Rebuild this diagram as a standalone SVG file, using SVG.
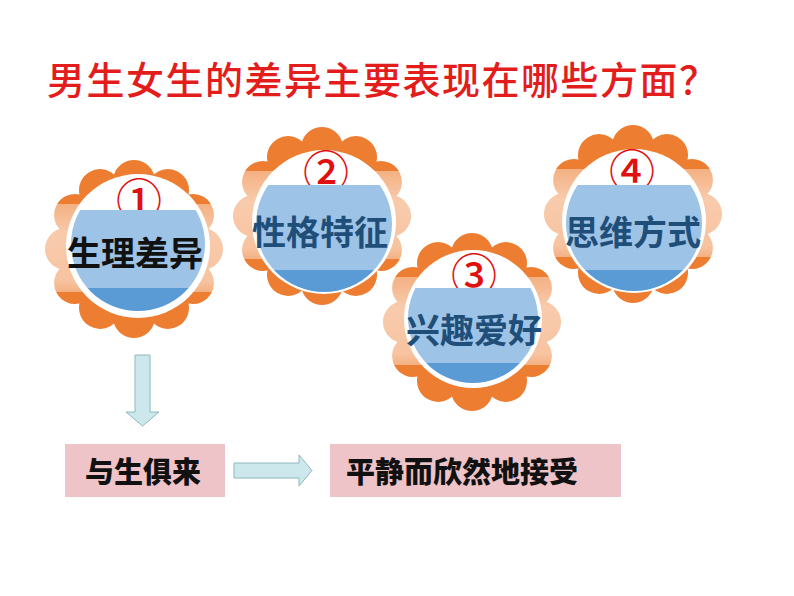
<svg xmlns="http://www.w3.org/2000/svg" xmlns:xlink="http://www.w3.org/1999/xlink" width="794" height="596" viewBox="0 0 794 596">
<defs>
<style>
.title{font-family:"Noto Sans CJK SC","Noto Sans CJK JP",sans-serif;font-size:38px;font-weight:500;fill:#E31C1C;letter-spacing:1.5px}
.num{font-family:"Noto Sans CJK SC",sans-serif;font-size:46px;font-weight:500;fill:#E01010;text-anchor:middle}
.lbl{font-family:"Noto Sans CJK SC",sans-serif;font-size:34px;text-anchor:middle;font-weight:700}
.blk{fill:#111111}
.dblue{fill:#1F4E79}
.box{fill:#EEC4C9}
.boxt{font-family:"Noto Sans CJK SC",sans-serif;font-size:29px;font-weight:900;fill:#111111;text-anchor:middle}
.arrow{fill:#CDE8EC;stroke:#8DB8BE;stroke-width:1}
.ring{fill:#FFFFFF}
.lb{fill:#9DC3E6}
.db{fill:#5B9BD5}
</style>
<linearGradient id="petalGrad" x1="0" y1="0" x2="0" y2="1">
<stop offset="0" stop-color="#ED7D31"/>
<stop offset="0.25" stop-color="#ED7D31"/>
<stop offset="0.25" stop-color="#F4B183"/>
<stop offset="0.42" stop-color="#F8CBAD"/>
<stop offset="0.68" stop-color="#F7C3A0"/>
<stop offset="0.74" stop-color="#F4B183"/>
<stop offset="0.74" stop-color="#ED7D31"/>
<stop offset="1" stop-color="#ED7D31"/>
</linearGradient>
<path id="petals" fill="url(#petalGrad)" d="M-19.97,-74.51 A21,21 0 0 1 19.97,-74.51 A21,21 0 0 1 54.55,-54.55 A21,21 0 0 1 74.51,-19.97 A21,21 0 0 1 74.51,19.97 A21,21 0 0 1 54.55,54.55 A21,21 0 0 1 19.97,74.51 A21,21 0 0 1 -19.97,74.51 A21,21 0 0 1 -54.55,54.55 A21,21 0 0 1 -74.51,19.97 A21,21 0 0 1 -74.51,-19.97 A21,21 0 0 1 -54.55,-54.55 A21,21 0 0 1 -19.97,-74.51 Z"/>
<clipPath id="c1"><circle cx="138" cy="244" r="67"/></clipPath>
<clipPath id="c2"><circle cx="324" cy="224" r="68"/></clipPath>
<clipPath id="c3"><circle cx="473" cy="318" r="65"/></clipPath>
<clipPath id="c4"><circle cx="634" cy="223" r="68"/></clipPath>
</defs>
<rect width="794" height="596" fill="#FFFFFF"/>
<text class="title" x="47" y="94">男生女生的差异主要表现在哪些方面？</text>

<g id="flower1">
<use xlink:href="#petals" href="#petals" transform="translate(134,249)"/>
<circle class="ring" cx="138" cy="246" r="72"/>
<text class="num" x="139" y="217">①</text>
<g clip-path="url(#c1)">
<rect class="lb" x="60" y="210" width="160" height="78"/>
<rect class="db" x="60" y="288" width="160" height="40"/>
</g>
<text class="lbl blk" x="135" y="266">生理差异</text>
</g>

<g id="flower2">
<use xlink:href="#petals" href="#petals" transform="translate(322,216)"/>
<circle class="ring" cx="324" cy="222" r="72"/>
<text class="num" x="326" y="189">②</text>
<g clip-path="url(#c2)">
<rect class="lb" x="250" y="185" width="150" height="85"/>
<rect class="db" x="250" y="270" width="150" height="40"/>
</g>
<text class="lbl dblue" x="320" y="245">性格特征</text>
</g>

<g id="flower4">
<use xlink:href="#petals" href="#petals" transform="translate(633,214)"/>
<circle class="ring" cx="634" cy="221" r="72"/>
<text class="num" x="632" y="188">④</text>
<g clip-path="url(#c4)">
<rect class="lb" x="560" y="185" width="150" height="85"/>
<rect class="db" x="560" y="270" width="150" height="40"/>
</g>
<text class="lbl dblue" x="633" y="245">思维方式</text>
</g>

<g id="flower3">
<use xlink:href="#petals" href="#petals" transform="translate(472,322)"/>
<circle class="ring" cx="473" cy="319" r="69"/>
<text class="num" x="474" y="292">③</text>
<g clip-path="url(#c3)">
<rect class="lb" x="400" y="288" width="150" height="75"/>
<rect class="db" x="400" y="363" width="150" height="40"/>
</g>
<text class="lbl dblue" x="474" y="343">兴趣爱好</text>
</g>

<g id="box1">
<rect class="box" x="65" y="444" width="160" height="53"/>
<text class="boxt" x="143" y="483">与生俱来</text>
</g>
<g id="box2">
<rect class="box" x="330" y="444" width="291" height="53"/>
<text class="boxt" x="462" y="483">平静而欣然地接受</text>
</g>

<g id="connectors">
<polygon class="arrow" points="135,355 150,355 150,412 159,412 142.5,426 126,412 135,412"/>
<polygon class="arrow" points="234,463 299,463 299,455 312,470.5 299,486 299,478 234,478"/>
</g>
</svg>
